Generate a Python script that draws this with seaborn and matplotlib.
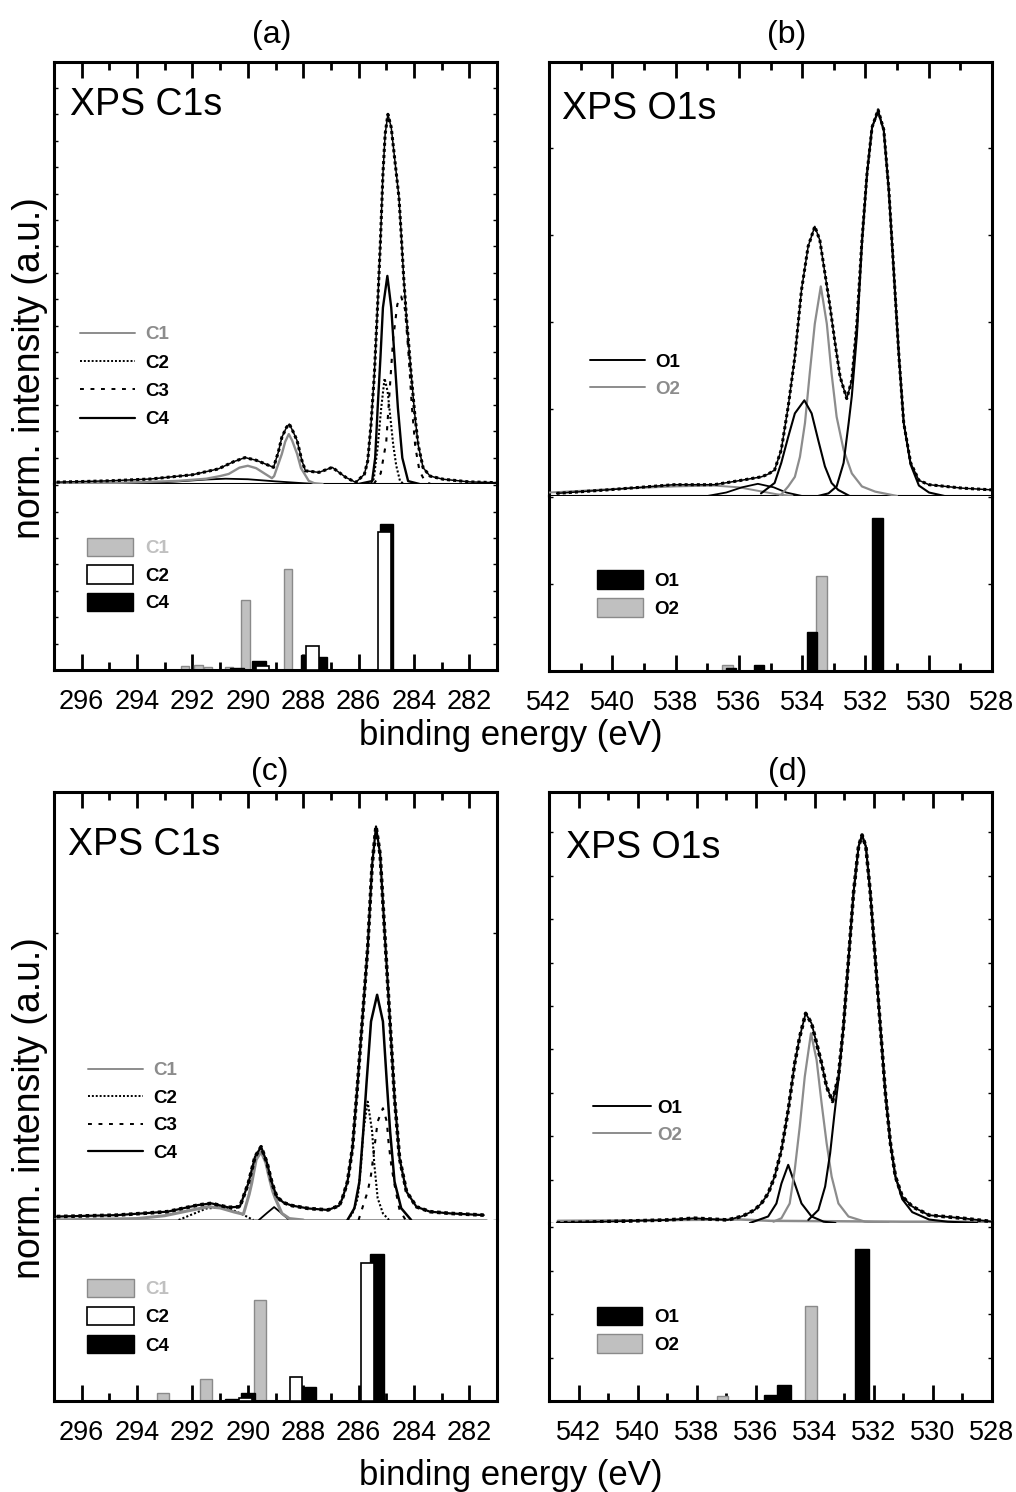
import matplotlib
matplotlib.use("Agg")
import matplotlib.pyplot as plt
import seaborn as sns
from matplotlib.lines import Line2D
from matplotlib.patches import Patch
from matplotlib.ticker import MultipleLocator, NullLocator

sns.set_style("white")
plt.rcParams["font.family"] = ["Liberation Sans", "DejaVu Sans"]
plt.rcParams["text.color"] = "black"
plt.rcParams["axes.labelcolor"] = "black"
plt.rcParams["xtick.color"] = "black"
plt.rcParams["ytick.color"] = "black"

# ---------------- data: panel (a) C1s ----------------
a_env_E = [296.9, 295.0, 293.5, 292.0, 291.07, 290.5, 290.1, 289.7, 289.37, 289.07, 288.9, 288.77,
           288.6, 288.5, 288.35, 288.22, 288.05, 287.92, 287.43, 286.95, 286.46, 286.1, 285.79, 285.67,
           285.55, 285.43, 285.31, 285.21, 285.12, 285.04, 284.94, 284.82, 284.70, 284.54, 284.46,
           284.37, 284.27, 284.19, 284.09, 283.97, 283.85, 283.67, 283.42, 282.94, 282.0, 281.0]
a_env_I = [0.07, 0.12, 0.19, 0.35, 0.57, 0.85, 1.0, 0.9, 0.76, 0.63, 1.2, 1.77,
           2.15, 2.27, 1.95, 1.64, 0.9, 0.5, 0.44, 0.63, 0.25, 0.06, 0.37, 0.87,
           2.26, 4.15, 6.81, 9.2, 11.73, 13.25, 14.0, 13.5, 12.36, 10.84, 9.46,
           7.81, 6.3, 5.29, 4.03, 2.64, 1.5, 0.62, 0.30, 0.18, 0.08, 0.05]
a_C1_E = [296.9, 294.5, 293.0, 292.5, 291.5, 291.0, 290.69, 290.3, 290.0, 289.7, 289.37, 289.13,
          289.05, 288.9, 288.77, 288.65, 288.52, 288.4, 288.22, 288.08, 287.95, 287.8, 287.6, 287.3]
a_C1_I = [0.0, 0.05, 0.1, 0.12, 0.2, 0.3, 0.38, 0.62, 0.69, 0.6, 0.38, 0.22,
          0.3, 0.75, 1.14, 1.6, 1.89, 1.65, 1.14, 0.6, 0.38, 0.12, 0.03, 0.0]
a_C2_E = [285.55, 285.45, 285.31, 285.18, 285.06, 284.95, 284.85, 284.75, 284.64, 284.5, 284.35]
a_C2_I = [0.0, 0.2, 1.4, 2.9, 4.0, 3.5, 2.5, 1.5, 0.7, 0.1, 0.0]
a_C3_E = [285.45, 285.2, 285.0, 284.88, 284.75, 284.6, 284.46, 284.32, 284.2, 284.08, 283.95, 283.8, 283.6, 283.4]
a_C3_I = [0.0, 0.4, 1.6, 3.5, 5.5, 6.8, 7.1, 6.6, 5.0, 3.0, 1.4, 0.5, 0.1, 0.0]
a_C4_E = [286.0, 285.51, 285.40, 285.31, 285.21, 285.12, 284.96, 284.82, 284.70, 284.58, 284.42, 284.21, 283.8]
a_C4_I = [0.0, 0.11, 0.99, 2.89, 4.78, 6.68, 7.88, 6.68, 4.78, 2.89, 0.99, 0.11, 0.0]
a_C4b_E = [294.0, 292.5, 291.5, 290.8, 290.0, 289.0, 288.0, 287.5]
a_C4b_I = [0.0, 0.1, 0.17, 0.2, 0.18, 0.1, 0.03, 0.0]
a_barC1_E = [292.26, 291.78, 291.43, 290.69, 290.08, 288.54]
a_barC1_h = [0.15, 0.19, 0.13, 0.10, 2.65, 3.81]
a_barC2_E = [289.46, 287.65, 285.06]
a_barC2_h = [0.15, 0.91, 5.24]
a_barC4_E = [290.38, 289.6, 287.83, 287.4, 284.99]
a_barC4_h = [0.09, 0.34, 0.55, 0.5, 5.55]

# ---------------- data: panel (b) O1s ----------------
b_env_E = [541.76, 540.17, 538.05, 536.78, 535.93, 535.29, 535.08, 534.87, 534.66, 534.44, 534.23,
           534.02, 533.81, 533.6, 533.44, 533.28, 533.12, 532.96, 532.8, 532.59, 532.43, 532.27,
           532.11, 531.95, 531.79, 531.6, 531.42, 531.26, 531.1, 530.94, 530.79, 530.57, 530.31,
           529.99, 528.93, 527.98]
b_env_I = [0.03, 0.07, 0.13, 0.13, 0.18, 0.22, 0.25, 0.30, 0.53, 1.03, 1.6,
           2.37, 2.87, 3.1, 2.94, 2.56, 2.18, 1.76, 1.37, 1.12, 1.33, 1.98,
           2.94, 3.71, 4.24, 4.44, 4.21, 3.52, 2.56, 1.6, 0.84, 0.38, 0.18,
           0.13, 0.09, 0.07]
b_O1a_E = [537.0, 536.4, 535.9, 535.4, 534.9, 534.5, 534.0]
b_O1a_I = [0.0, 0.04, 0.1, 0.14, 0.1, 0.04, 0.0]
b_O1b_E = [535.3, 534.87, 534.66, 534.44, 534.23, 533.93, 533.7, 533.49, 533.28, 533.07, 532.86, 532.5]
b_O1b_I = [0.03, 0.15, 0.38, 0.68, 0.95, 1.1, 0.95, 0.64, 0.34, 0.15, 0.07, 0.0]
b_O1c_E = [533.5, 533.17, 532.91, 532.69, 532.53, 532.43, 532.27, 532.11, 531.95, 531.79, 531.6,
           531.42, 531.26, 531.1, 530.94, 530.79, 530.57, 530.31, 529.99, 529.5]
b_O1c_I = [0.0, 0.03, 0.11, 0.38, 0.84, 1.15, 1.85, 2.9, 3.7, 4.24, 4.42,
           4.2, 3.5, 2.55, 1.6, 0.84, 0.36, 0.12, 0.04, 0.0]
b_O2a_E = [534.7, 534.44, 534.23, 534.07, 533.91, 533.76, 533.6, 533.41, 533.22, 533.07, 532.91,
           532.69, 532.43, 532.11, 531.69, 531.0]
b_O2a_I = [0.0, 0.11, 0.22, 0.45, 0.84, 1.41, 1.98, 2.41, 1.98, 1.41, 0.91,
           0.53, 0.26, 0.11, 0.05, 0.0]
b_O2b_E = [542.0, 540.0, 538.0, 536.8, 536.0, 535.4, 534.8, 534.3]
b_O2b_I = [0.04, 0.08, 0.11, 0.12, 0.1, 0.06, 0.02, 0.0]
b_barO1_E = [536.25, 535.36, 533.68, 531.62]
b_barO1_h = [0.035, 0.07, 0.445, 1.755]
b_barO2_E = [536.36, 533.38]
b_barO2_h = [0.065, 1.095]

# ---------------- data: panel (c) C1s ----------------
c_env_E = [296.9, 294.72, 292.9, 291.8, 291.32, 290.71, 290.29, 289.98, 289.74, 289.52, 289.31,
           289.13, 288.95, 288.7, 288.4, 287.8, 287.1, 286.7, 286.58, 286.40, 286.22, 286.03,
           285.85, 285.67, 285.51, 285.37, 285.22, 285.06, 284.88, 284.70, 284.52, 284.27,
           283.91, 283.42, 282.69, 281.48]
c_env_I = [0.012, 0.017, 0.029, 0.052, 0.058, 0.044, 0.046, 0.128, 0.22, 0.255, 0.20,
           0.13, 0.08, 0.06, 0.05, 0.04, 0.035, 0.05, 0.076, 0.133, 0.25, 0.48,
           0.714, 0.947, 1.237, 1.37, 1.272, 1.005, 0.714, 0.424, 0.215, 0.099,
           0.046, 0.029, 0.023, 0.017]
c_C1_E = [297.0, 294.0, 293.0, 292.0, 291.44, 291.0, 290.5, 290.16, 289.95, 289.86, 289.7,
          289.52, 289.35, 289.25, 289.1, 289.01, 288.77, 288.5, 288.0]
c_C1_I = [0.0, 0.005, 0.015, 0.035, 0.046, 0.042, 0.028, 0.02, 0.09, 0.128, 0.21,
          0.238, 0.2, 0.157, 0.1, 0.076, 0.023, 0.005, 0.0]
c_bg_E = [297.0, 281.4]
c_bg_I = [0.0, 0.0]
c_C2_E = [286.4, 286.22, 286.03, 285.91, 285.83, 285.67, 285.51, 285.43, 285.31, 285.12, 284.9]
c_C2_I = [0.0, 0.023, 0.076, 0.192, 0.308, 0.412, 0.308, 0.192, 0.076, 0.023, 0.0]
c_C2b_E = [292.5, 291.5, 290.8, 290.2, 289.8]
c_C2b_I = [0.0, 0.04, 0.045, 0.02, 0.0]
c_C3_E = [286.0, 285.79, 285.67, 285.55, 285.43, 285.31, 285.12, 284.98, 284.92, 284.82, 284.70,
          284.58, 284.52, 284.3]
c_C3_I = [0.0, 0.064, 0.099, 0.157, 0.25, 0.343, 0.389, 0.343, 0.273, 0.192, 0.122,
          0.064, 0.035, 0.0]
c_C4_E = [286.4, 286.15, 285.97, 285.83, 285.71, 285.55, 285.33, 285.12, 284.98, 284.86, 284.70,
          284.46, 284.1]
c_C4_I = [0.0, 0.041, 0.133, 0.308, 0.48, 0.691, 0.784, 0.691, 0.48, 0.308, 0.133, 0.041, 0.0]
c_C4b_E = [289.6, 289.3, 289.05, 288.8, 288.5]
c_C4b_I = [0.0, 0.025, 0.045, 0.025, 0.0]
c_barC1_E = [293.05, 291.5, 289.56]
c_barC1_h = [0.046, 0.123, 0.556]
c_barC2_E = [290.08, 288.26, 285.68]
c_barC2_h = [0.017, 0.133, 0.765]
c_barC4_E = [290.59, 290.0, 287.78, 285.34]
c_barC4_h = [0.013, 0.044, 0.077, 0.81]

# ---------------- data: panel (d) O1s ----------------
d_env_E = [542.74, 538.99, 538.08, 536.95, 536.49, 536.38, 536.04, 535.81, 535.58, 535.36, 535.13,
           534.90, 534.68, 534.51, 534.31, 534.11, 533.94, 533.77, 533.60, 533.40, 533.20, 533.03,
           532.86, 532.69, 532.52, 532.40, 532.27, 532.12, 531.95, 531.78, 531.61, 531.44, 531.27,
           531.04, 530.70, 530.13, 529.0, 527.97]
d_env_I = [0.0, 0.07, 0.11, 0.07, 0.15, 0.18, 0.30, 0.45, 0.68, 1.07, 1.68,
           2.60, 3.68, 4.29, 4.83, 4.60, 4.14, 3.68, 3.14, 2.80, 3.37, 4.52,
           6.06, 7.60, 8.67, 8.94, 8.67, 7.60, 6.06, 4.52, 2.99, 1.84, 1.07,
           0.61, 0.38, 0.18, 0.11, 0.03]
d_O1a_E = [534.22, 533.88, 533.65, 533.48, 533.34, 533.20, 533.03, 532.86, 532.69, 532.52, 532.40,
           532.27, 532.12, 531.95, 531.78, 531.61, 531.44, 531.27, 531.04, 530.70, 530.13, 529.5, 528.5]
d_O1a_I = [0.07, 0.30, 0.84, 1.61, 2.48, 3.30, 4.52, 6.06, 7.6, 8.67, 8.94,
           8.67, 7.6, 6.06, 4.52, 2.99, 1.84, 1.07, 0.55, 0.25, 0.08, 0.03, 0.0]
d_O1b_E = [536.2, 535.58, 535.3, 535.13, 534.90, 534.68, 534.45, 534.11, 533.7, 533.3]
d_O1b_I = [0.0, 0.15, 0.45, 0.91, 1.34, 0.91, 0.45, 0.15, 0.03, 0.0]
d_O2a_E = [535.4, 535.13, 534.85, 534.68, 534.51, 534.34, 534.13, 533.94, 533.77, 533.60, 533.43,
           533.20, 532.86, 532.3, 531.5]
d_O2a_I = [0.03, 0.11, 0.45, 1.22, 2.22, 3.37, 4.37, 3.76, 2.76, 1.84, 1.07,
           0.45, 0.15, 0.03, 0.0]
d_O2b_E = [542.7, 536.5, 535.5, 531.0, 528.0]
d_O2b_I = [0.05, 0.08, 0.05, 0.03, 0.03]
d_barO1_E = [535.5, 535.04, 532.4]
d_barO1_h = [0.13, 0.38, 3.49]
d_barO2_E = [537.12, 534.12]
d_barO2_h = [0.12, 2.18]

# ---------------- styles ----------------
GRAY_LINE = "#8c8c8c"
GRAY_BAR = "#c0c0c0"
GRAY_EDGE = "#8a8a8a"
DOT = (0, (1, 1))
DASH = (0, (2, 3.4))

W, H = 1016, 1492
fig = plt.figure(figsize=(W / 100, H / 100), dpi=100)
fig.patch.set_facecolor("white")


def px_axes(left, right, top, bottom):
    return fig.add_axes([left / W, 1 - bottom / H, (right - left) / W, (bottom - top) / H])


def curve(ax, E, I, color="black", lw=1.3, ls="-", z=3):
    sns.lineplot(x=E, y=I, ax=ax, color=color, linewidth=lw, linestyle=ls,
                 sort=False, estimator=None, legend=False, zorder=z)


def envelope(ax, E, I, lw_dot=2.2, lw_fit=1.1):
    curve(ax, E, I, "black", lw_dot, DOT, 4)
    curve(ax, E, I, "black", lw_fit, "-", 5)


def style(ax_t, ax_b, xlim, ylim_t, ylim_b, ystep_t, ystep_b, divider):
    for ax in (ax_t, ax_b):
        ax.set_xlim(*xlim)
        ax.xaxis.set_major_locator(MultipleLocator(2))
        ax.xaxis.set_minor_locator(MultipleLocator(1))
        for s in ax.spines.values():
            s.set_linewidth(2.2)
            s.set_color("black")
        ax.set_xlabel("")
        ax.set_ylabel("")
        ax.tick_params(axis="y", which="both", direction="in", left=True, right=True,
                       labelleft=False, length=3, width=1, color="black")
    ax_t.set_ylim(*ylim_t)
    ax_b.set_ylim(*ylim_b)
    ax_t.yaxis.set_major_locator(MultipleLocator(ystep_t))
    if ystep_b:
        ax_b.yaxis.set_major_locator(MultipleLocator(ystep_b))
    else:
        ax_b.yaxis.set_major_locator(NullLocator())
    ax_t.tick_params(axis="x", which="both", direction="in", top=True, bottom=False,
                     labeltop=False, labelbottom=False, width=2, color="black")
    ax_t.tick_params(axis="x", which="major", length=11.5)
    ax_t.tick_params(axis="x", which="minor", length=5.8)
    ax_b.tick_params(axis="x", which="both", direction="in", top=False, bottom=True,
                     labelbottom=True, width=2, color="black", labelcolor="black")
    ax_b.tick_params(axis="x", which="major", length=11.5, labelsize=19.5, pad=14)
    ax_b.tick_params(axis="x", which="minor", length=5.8)
    ax_b.spines["top"].set_visible(False)
    if divider:
        ax_t.spines["bottom"].set_linewidth(1.5)
    else:
        ax_t.spines["bottom"].set_visible(False)


def legend(ax, handles, labels, colors, left, top, hl, hh, tp, ls):
    ax.legend(handles, labels, loc="upper left", bbox_to_anchor=(left / W, 1 - top / H),
              bbox_transform=fig.transFigure, frameon=False, borderpad=0, borderaxespad=0,
              handlelength=hl, handleheight=hh, handletextpad=tp, labelspacing=ls,
              prop={"weight": "bold", "size": 13.5}, labelcolor=colors)


def bars(ax, E, h, w, kind):
    if kind == "gray":
        ax.bar(E, h, width=w, color=GRAY_BAR, edgecolor=GRAY_EDGE, linewidth=1.0, zorder=2)
    elif kind == "white":
        ax.bar(E, h, width=w, color="white", edgecolor="black", linewidth=1.2, zorder=4)
    else:
        ax.bar(E, h, width=w, color="black", edgecolor="black", linewidth=1.0, zorder=3)


c_handles = [Line2D([], [], color=GRAY_LINE, lw=1.4),
             Line2D([], [], color="black", lw=1.4, ls=DOT),
             Line2D([], [], color="black", lw=1.4, ls=DASH),
             Line2D([], [], color="black", lw=1.6)]
c_bar_handles = [Patch(facecolor=GRAY_BAR, edgecolor=GRAY_EDGE, lw=1),
                 Patch(facecolor="white", edgecolor="black", lw=1.2),
                 Patch(facecolor="black", edgecolor="black", lw=1)]
o_handles = [Line2D([], [], color="black", lw=1.4), Line2D([], [], color=GRAY_LINE, lw=1.4)]
o_bar_handles = [Patch(facecolor="black", edgecolor="black", lw=1),
                 Patch(facecolor=GRAY_BAR, edgecolor=GRAY_EDGE, lw=1)]

# ---------------- panel (a) ----------------
at = px_axes(54, 497, 62, 484)
ab = px_axes(54, 497, 484, 670)
curve(at, a_C4b_E, a_C4b_I, "black", 1.3)
curve(at, a_C1_E, a_C1_I, GRAY_LINE, 1.7)
curve(at, a_C4_E, a_C4_I, "black", 1.7)
curve(at, a_C2_E, a_C2_I, "black", 1.5, DOT)
curve(at, a_C3_E, a_C3_I, "black", 1.5, DASH)
envelope(at, a_env_E, a_env_I)
bars(ab, a_barC1_E, a_barC1_h, 0.3, "gray")
bars(ab, a_barC4_E, a_barC4_h, 0.5, "black")
bars(ab, a_barC2_E, a_barC2_h, 0.47, "white")
style(at, ab, (297, 281), (0, 15.98), (0, 7.05), 1, 1, True)
legend(at, c_handles, ["C1", "C2", "C3", "C4"], [GRAY_LINE, "black", "black", "black"],
       80, 326, 2.94, 0.7, 0.56, 0.6)
legend(ab, c_bar_handles, ["C1", "C2", "C4"], [GRAY_BAR, "black", "black"],
       87, 538, 2.44, 1.11, 0.68, 0.43)

# ---------------- panel (b) ----------------
bt = px_axes(549, 992, 62, 496)
bb = px_axes(549, 992, 496, 671)
curve(bt, b_O2b_E, b_O2b_I, GRAY_LINE, 1.4)
curve(bt, b_O1a_E, b_O1a_I, "black", 1.3)
curve(bt, b_O2a_E, b_O2a_I, GRAY_LINE, 1.6)
curve(bt, b_O1b_E, b_O1b_I, "black", 1.5)
curve(bt, b_O1c_E, b_O1c_I, "black", 1.5)
envelope(bt, b_env_E, b_env_I)
bars(bb, b_barO2_E, b_barO2_h, 0.35, "gray")
bars(bb, b_barO1_E, b_barO1_h, 0.33, "black")
style(bt, bb, (542, 528), (0, 4.99), (0, 2.01), 1, 1, True)
legend(bt, o_handles, ["O1", "O2"], ["black", GRAY_LINE], 590, 353.6, 2.94, 0.7, 0.56, 0.53)
legend(bb, o_bar_handles, ["O1", "O2"], ["black", "black"], 597, 570, 2.43, 1.15, 0.61, 0.45)

# ---------------- panel (c) ----------------
ct = px_axes(54, 497, 792, 1220)
cb = px_axes(54, 497, 1220, 1401)
curve(ct, c_bg_E, c_bg_I, GRAY_LINE, 2.0)
curve(ct, c_C2b_E, c_C2b_I, "black", 1.5, DOT)
curve(ct, c_C4b_E, c_C4b_I, "black", 1.3)
curve(ct, c_C1_E, c_C1_I, GRAY_LINE, 2.2)
curve(ct, c_C4_E, c_C4_I, "black", 1.8)
curve(ct, c_C2_E, c_C2_I, "black", 1.5, DOT)
curve(ct, c_C3_E, c_C3_I, "black", 1.5, DASH)
envelope(ct, c_env_E, c_env_I, 2.6, 1.6)
bars(cb, c_barC1_E, c_barC1_h, 0.44, "gray")
bars(cb, c_barC4_E, c_barC4_h, 0.5, "black")
bars(cb, c_barC2_E, c_barC2_h, 0.45, "white")
style(ct, cb, (297, 281), (0, 1.49), (0, 1.0), 1, None, False)
legend(ct, c_handles, ["C1", "C2", "C3", "C4"], [GRAY_LINE, "black", "black", "black"],
       88, 1062, 2.93, 0.7, 0.56, 0.56)
legend(cb, c_bar_handles, ["C1", "C2", "C4"], [GRAY_BAR, "black", "black"],
       87.3, 1279, 2.47, 1.11, 0.64, 0.46)

# ---------------- panel (d) ----------------
dt = px_axes(549, 992, 792, 1223)
db = px_axes(549, 992, 1223, 1401)
curve(dt, d_O2b_E, d_O2b_I, GRAY_LINE, 1.8)
curve(dt, d_O1b_E, d_O1b_I, "black", 1.5)
curve(dt, d_O2a_E, d_O2a_I, GRAY_LINE, 1.6)
curve(dt, d_O1a_E, d_O1a_I, "black", 1.5)
envelope(dt, d_env_E, d_env_I, 2.6, 1.3)
bars(db, d_barO2_E, d_barO2_h, 0.39, "gray")
bars(db, d_barO1_E, d_barO1_h, 0.45, "black")
style(dt, db, (543, 528), (0, 9.93), (0, 4.1), 1, 1, False)
legend(dt, o_handles, ["O1", "O2"], ["black", GRAY_LINE], 593.3, 1099.6, 3.06, 0.7, 0.37, 0.53)
legend(db, o_bar_handles, ["O1", "O2"], ["black", "black"], 597.3, 1306.6, 2.41, 1.15, 0.61, 0.42)

# ---------------- texts ----------------
for x, y, s in [(272, 35, "(a)"), (787, 35, "(b)"), (270, 772, "(c)"), (788, 772, "(d)")]:
    fig.text(x / W, 1 - y / H, s, ha="center", va="center", fontsize=23, color="black")
for x, y, s in [(70, 115, "XPS C1s"), (562, 119, "XPS O1s"), (68, 855, "XPS C1s"), (566, 858, "XPS O1s")]:
    fig.text(x / W, 1 - y / H, s, ha="left", va="baseline", fontsize=27, color="black")
for y in (735, 1475):
    fig.text(511 / W, 1 - y / H, "binding energy (eV)", ha="center", va="center",
             fontsize=25, color="black")
for y in (368, 1108):
    fig.text(30 / W, 1 - y / H, "norm. intensity (a.u.)", ha="center", va="center",
             rotation=90, fontsize=27, color="black")

fig.savefig("out.png", dpi=100, facecolor="white")
